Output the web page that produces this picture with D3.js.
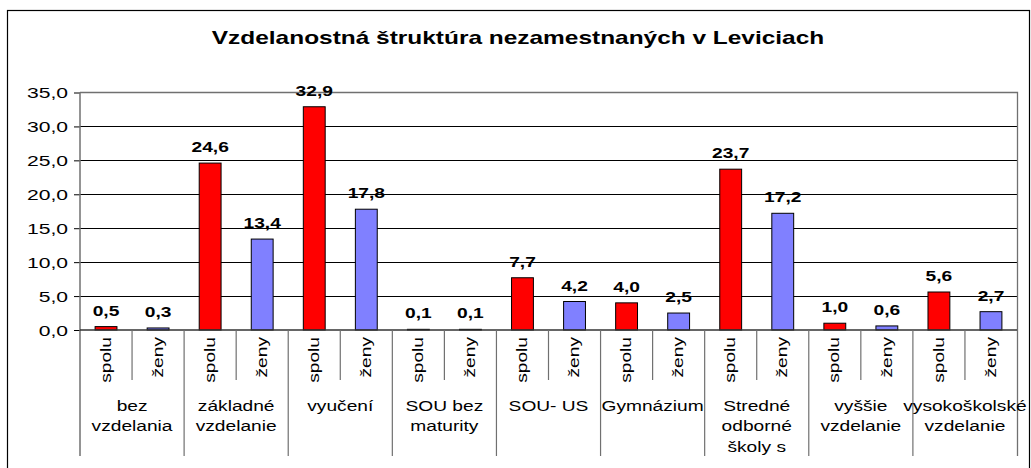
<!DOCTYPE html>
<html>
<head>
<meta charset="utf-8">
<script src="https://cdn.jsdelivr.net/npm/d3@7"></script>
<style>
  html, body { margin: 0; padding: 0; background: #fff; }
  svg { display: block; }
  text { font-family: "Liberation Sans", Arial, sans-serif; fill: #000; }
</style>
</head>
<body>
<svg id="chart" width="1031" height="468"></svg>
<script>
// Education structure of the unemployed in Levice (%)
const title = "Vzdelanostná štruktúra nezamestnaných v Leviciach";
const groups = [
  ["bez", "vzdelania"],
  ["základné", "vzdelanie"],
  ["vyučení"],
  ["SOU bez", "maturity"],
  ["SOU- US"],
  ["Gymnázium"],
  ["Stredné", "odborné", "školy s"],
  ["vyššie", "vzdelanie"],
  ["vysokoškolské", "vzdelanie"]
];
const seriesNames = ["spolu", "ženy"];
const spolu = [0.5, 24.6, 32.9, 0.1, 7.7, 4.0, 23.7, 1.0, 5.6];
const zeny  = [0.3, 13.4, 17.8, 0.1, 4.2, 2.5, 17.2, 0.6, 2.7];
const yTicks = [0, 5, 10, 15, 20, 25, 30, 35];
const colors = ["#ff0000", "#8080ff"];

const svg = d3.select("#chart");
const W = 1031, H = 468;
const plot = { left: 80, right: 1017, top: 92.5, bottom: 330 };
const sx = 1.34; // horizontal stretch of the lettering

const locale = d3.formatLocale({ decimal: ",", thousands: " ", grouping: [3], currency: ["", " €"] });
const fmt = locale.format(".1f");

svg.append("rect").attr("width", W).attr("height", H).attr("fill", "#fff");

// outer chart frame
svg.append("rect")
  .attr("x", 7.5).attr("y", 10.5)
  .attr("width", 1022).attr("height", 500)
  .attr("fill", "none").attr("stroke", "#000").attr("stroke-width", 1.2);

// title
svg.append("text")
  .attr("transform", `translate(518,44) scale(1.3,1)`)
  .attr("text-anchor", "middle")
  .attr("font-size", 18.8).attr("font-weight", "bold")
  .text(title);

const y = d3.scaleLinear().domain([0, 35]).range([plot.bottom, plot.top]);
const x0 = d3.scaleBand().domain(d3.range(groups.length)).range([plot.left, plot.right]).padding(0);
const x1 = d3.scaleBand().domain(seriesNames).range([0, x0.bandwidth()]).padding(0);
const barW = x1.bandwidth() * 0.42;

// gridlines
svg.append("g")
  .selectAll("line")
  .data(yTicks.filter(t => t > 0 && t < 35))
  .join("line")
  .attr("x1", plot.left).attr("x2", plot.right)
  .attr("y1", d => Math.round(y(d)) + 0.5).attr("y2", d => Math.round(y(d)) + 0.5)
  .attr("stroke", "#000").attr("stroke-width", 1);

// plot area border (top and right)
svg.append("path")
  .attr("d", `M${plot.left},${plot.top}H${plot.right + 0.5}V456`)
  .attr("fill", "none").attr("stroke", "#707070").attr("stroke-width", 1.3);

// bars
const rows = [];
groups.forEach((g, i) => {
  rows.push({ g: i, s: "spolu", v: spolu[i], c: colors[0] });
  rows.push({ g: i, s: "ženy", v: zeny[i], c: colors[1] });
});
const cx = d => x0(d.g) + x1(d.s) + x1.bandwidth() / 2;

svg.append("g")
  .selectAll("rect")
  .data(rows)
  .join("rect")
  .attr("x", d => cx(d) - barW / 2)
  .attr("y", d => y(d.v))
  .attr("width", barW)
  .attr("height", d => y(0) - y(d.v))
  .attr("fill", d => d.c)
  .attr("stroke", "#000").attr("stroke-width", 1);

// value labels
svg.append("g")
  .selectAll("text")
  .data(rows)
  .join("text")
  .attr("transform", d => `translate(${cx(d)},${y(d.v) - 11}) scale(1.28,1)`)
  .attr("text-anchor", "middle")
  .attr("font-size", 15).attr("font-weight", "bold")
  .text(d => fmt(d.v));

// y axis
const yAxis = svg.append("g")
  .attr("transform", `translate(${plot.left},0)`)
  .call(d3.axisLeft(y).tickValues(yTicks).tickSize(6).tickPadding(0).tickFormat(fmt));
yAxis.select(".domain").remove();
yAxis.selectAll(".tick line").attr("stroke", "#000");
yAxis.selectAll(".tick text")
  .attr("x", null).attr("dy", null)
  .attr("dominant-baseline", "central")
  .attr("transform", `translate(-12,0) scale(1.36,1)`)
  .attr("font-family", null)
  .attr("font-size", 15.5);

// axis lines
svg.append("line")
  .attr("x1", plot.left).attr("x2", plot.left)
  .attr("y1", plot.top).attr("y2", 456)
  .attr("stroke", "#707070").attr("stroke-width", 1.5);
svg.append("line")
  .attr("x1", plot.left).attr("x2", plot.right)
  .attr("y1", plot.bottom).attr("y2", plot.bottom)
  .attr("stroke", "#333").attr("stroke-width", 1.3);

// category dividers
svg.append("g")
  .selectAll("line")
  .data(d3.range(1, groups.length))
  .join("line")
  .attr("x1", d => x0(d)).attr("x2", d => x0(d))
  .attr("y1", plot.bottom).attr("y2", 456)
  .attr("stroke", "#707070").attr("stroke-width", 1.2);
svg.append("g")
  .selectAll("line")
  .data(d3.range(groups.length))
  .join("line")
  .attr("x1", d => x0(d) + x1("ženy")).attr("x2", d => x0(d) + x1("ženy"))
  .attr("y1", plot.bottom).attr("y2", 380)
  .attr("stroke", "#707070").attr("stroke-width", 1.2);

// series labels (rotated)
svg.append("g")
  .selectAll("text")
  .data(rows)
  .join("text")
  .attr("transform", d => `translate(${cx(d)},337) rotate(-90) scale(${sx},1)`)
  .attr("text-anchor", "end")
  .attr("dominant-baseline", "central")
  .attr("font-size", 14.3)
  .text(d => d.s);

// group labels
const gl = svg.append("g")
  .selectAll("g")
  .data(groups)
  .join("g")
  .attr("transform", (d, i) => `translate(${x0(i) + x0.bandwidth() / 2},0)`);
gl.selectAll("text")
  .data(d => d)
  .join("text")
  .attr("transform", (d, j) => `translate(0,${410.5 + j * 20.5}) scale(${sx},1)`)
  .attr("text-anchor", "middle")
  .attr("font-size", 14.3)
  .text(d => d);
</script>
</body>
</html>
